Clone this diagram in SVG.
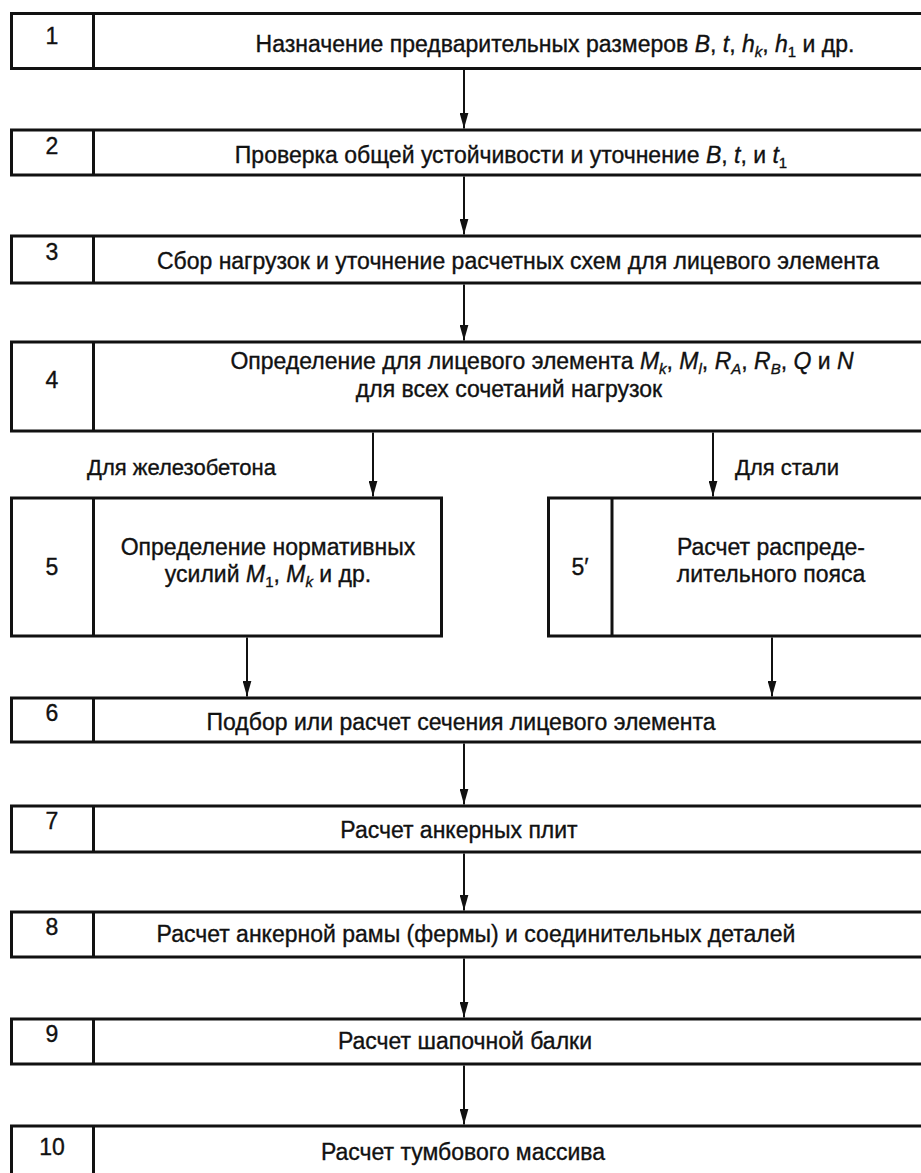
<svg xmlns="http://www.w3.org/2000/svg" width="921" height="1173" viewBox="0 0 921 1173">
<defs>
<marker id="ah" viewBox="0 0 16 9" markerWidth="16" markerHeight="9" refX="16" refY="4.5" orient="auto" markerUnits="userSpaceOnUse">
<path d="M0,0 L16,4.5 L0,9 z" fill="#111"/>
</marker>
<style>
.box{fill:#fff;stroke:#111;stroke-width:3}
.div{stroke:#111;stroke-width:3}
.t{font-family:"Liberation Sans",Arial,sans-serif;font-size:23px;fill:#111;stroke:#111;stroke-width:0.35;text-anchor:middle}
.n{font-family:"Liberation Sans",Arial,sans-serif;font-size:23px;fill:#111;stroke:#111;stroke-width:0.35;text-anchor:middle}
.lb{font-family:"Liberation Sans",Arial,sans-serif;font-size:22px;fill:#111;stroke:#111;stroke-width:0.35}
.i{font-style:italic}
.s{font-size:15px}
.c{stroke:#111;stroke-width:2;fill:none;marker-end:url(#ah)}
</style>
</defs>
<rect width="921" height="1173" fill="#fff"/>
<g id="connectors">
<line class="c" x1="464" y1="70" x2="464" y2="128.5"/>
<line class="c" x1="464" y1="176.5" x2="464" y2="234.5"/>
<line class="c" x1="464" y1="284.5" x2="464" y2="340.5"/>
<line class="c" x1="373" y1="432.5" x2="373" y2="496.5"/>
<line class="c" x1="713" y1="432.5" x2="713" y2="496.5"/>
<line class="c" x1="247" y1="637.5" x2="247" y2="696.5"/>
<line class="c" x1="772" y1="637.5" x2="772" y2="696.5"/>
<line class="c" x1="464" y1="743.5" x2="464" y2="804.5"/>
<line class="c" x1="464" y1="853.5" x2="464" y2="910.5"/>
<line class="c" x1="464" y1="958.5" x2="464" y2="1017.5"/>
<line class="c" x1="464" y1="1065.5" x2="464" y2="1124.5"/>
</g>
<g id="node1">
<rect class="box" x="11.5" y="13.5" width="930" height="55"/>
<line class="div" x1="93.5" y1="13.5" x2="93.5" y2="68.5"/>
<text class="n" x="52" y="44">1</text>
<text class="t" x="555" y="52">Назначение предварительных размеров <tspan class="i">B</tspan>, <tspan class="i">t</tspan>, <tspan class="i">h</tspan><tspan class="i s" dy="5">k</tspan><tspan dy="-5">, </tspan><tspan class="i">h</tspan><tspan class="s" dy="5">1</tspan><tspan dy="-5"> и др.</tspan></text>
</g>
<g id="node2">
<rect class="box" x="11.5" y="130" width="930" height="45"/>
<line class="div" x1="93.5" y1="130" x2="93.5" y2="175"/>
<text class="n" x="52" y="154">2</text>
<text class="t" x="511" y="163">Проверка общей устойчивости и уточнение <tspan class="i">B</tspan>, <tspan class="i">t</tspan>, и <tspan class="i">t</tspan><tspan class="s" dy="5">1</tspan></text>
</g>
<g id="node3">
<rect class="box" x="11.5" y="236" width="930" height="47"/>
<line class="div" x1="93.5" y1="236" x2="93.5" y2="283"/>
<text class="n" x="52" y="260">3</text>
<text class="t" x="518" y="269">Сбор нагрузок и уточнение расчетных схем для лицевого элемента</text>
</g>
<g id="node4">
<rect class="box" x="11.5" y="342" width="930" height="89"/>
<line class="div" x1="93.5" y1="342" x2="93.5" y2="431"/>
<text class="n" x="52" y="388">4</text>
<text class="t" x="542" y="369">Определение для лицевого элемента <tspan class="i">M</tspan><tspan class="i s" dy="5">k</tspan><tspan dy="-5">, </tspan><tspan class="i">M</tspan><tspan class="i s" dy="5">l</tspan><tspan dy="-5">, </tspan><tspan class="i">R</tspan><tspan class="i s" dy="5">A</tspan><tspan dy="-5">, </tspan><tspan class="i">R</tspan><tspan class="i s" dy="5">B</tspan><tspan dy="-5">, </tspan><tspan class="i">Q</tspan> и <tspan class="i">N</tspan></text>
<text class="t" x="509" y="397">для всех сочетаний нагрузок</text>
</g>
<g id="labels">
<text class="lb" x="87" y="475">Для железобетона</text>
<text class="lb" x="735" y="475">Для стали</text>
</g>
<g id="node5">
<rect class="box" x="11.5" y="498" width="430" height="138"/>
<line class="div" x1="93.5" y1="498" x2="93.5" y2="636"/>
<text class="n" x="52" y="575">5</text>
<text class="t" x="268" y="555">Определение нормативных</text>
<text class="t" x="268" y="582">усилий <tspan class="i">M</tspan><tspan class="s" dy="5">1</tspan><tspan dy="-5">, </tspan><tspan class="i">M</tspan><tspan class="i s" dy="5">k</tspan><tspan dy="-5"> и др.</tspan></text>
</g>
<g id="node5p">
<rect class="box" x="548.5" y="498" width="400" height="138"/>
<line class="div" x1="612" y1="498" x2="612" y2="636"/>
<text class="n" x="580" y="575">5′</text>
<text class="t" x="771" y="555">Расчет распреде-</text>
<text class="t" x="771" y="582">лительного пояса</text>
</g>
<g id="node6">
<rect class="box" x="11.5" y="698" width="930" height="44"/>
<line class="div" x1="93.5" y1="698" x2="93.5" y2="742"/>
<text class="n" x="52" y="721">6</text>
<text class="t" x="461" y="730">Подбор или расчет сечения лицевого элемента</text>
</g>
<g id="node7">
<rect class="box" x="11.5" y="806" width="930" height="46"/>
<line class="div" x1="93.5" y1="806" x2="93.5" y2="852"/>
<text class="n" x="52" y="829">7</text>
<text class="t" x="459" y="838">Расчет анкерных плит</text>
</g>
<g id="node8">
<rect class="box" x="11.5" y="912" width="930" height="45"/>
<line class="div" x1="93.5" y1="912" x2="93.5" y2="957"/>
<text class="n" x="52" y="935">8</text>
<text class="t" x="476" y="942">Расчет анкерной рамы (фермы) и соединительных деталей</text>
</g>
<g id="node9">
<rect class="box" x="11.5" y="1019" width="930" height="45"/>
<line class="div" x1="93.5" y1="1019" x2="93.5" y2="1064"/>
<text class="n" x="52" y="1042">9</text>
<text class="t" x="465" y="1049">Расчет шапочной балки</text>
</g>
<g id="node10">
<rect class="box" x="11.5" y="1126" width="930" height="60"/>
<line class="div" x1="93.5" y1="1126" x2="93.5" y2="1186"/>
<text class="n" x="52" y="1155">10</text>
<text class="t" x="463" y="1160">Расчет тумбового массива</text>
</g>
</svg>
